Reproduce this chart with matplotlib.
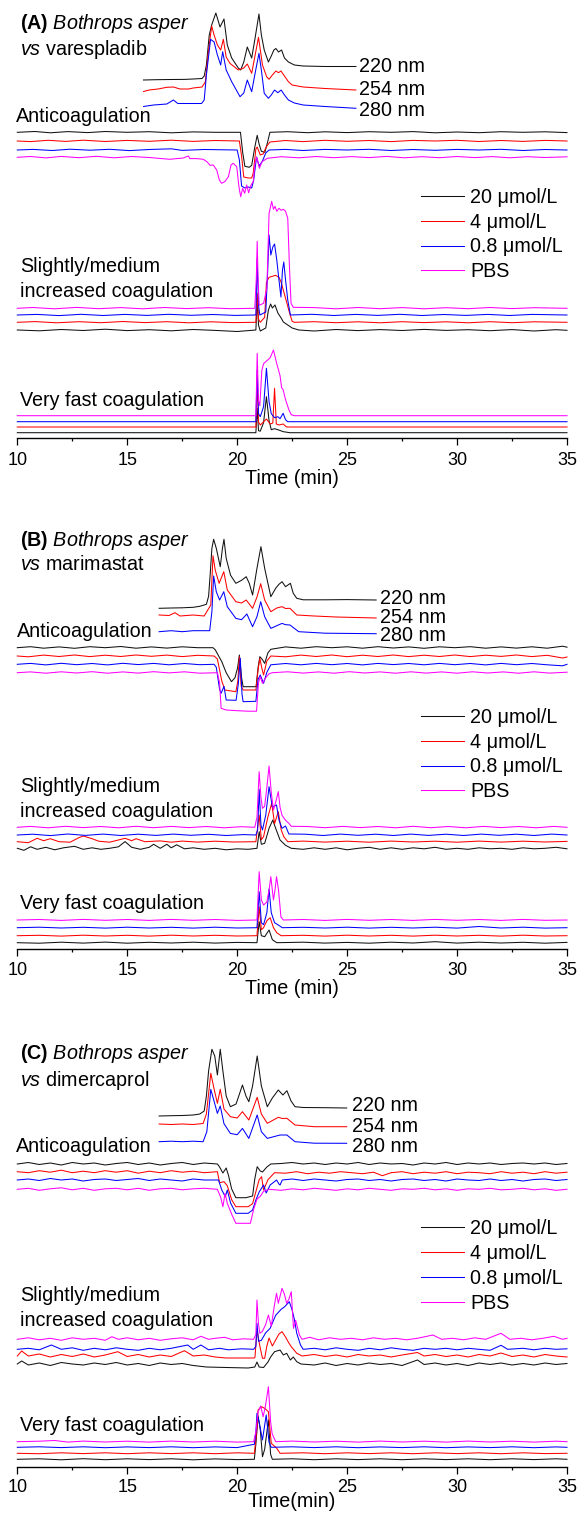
import matplotlib
matplotlib.use('Agg')
import matplotlib.pyplot as plt
from matplotlib.lines import Line2D
from matplotlib.ticker import MultipleLocator

plt.rcParams['font.family'] = ['Liberation Sans', 'DejaVu Sans']
plt.rcParams['mathtext.fontset'] = 'custom'
plt.rcParams['mathtext.rm'] = 'Liberation Sans'
plt.rcParams['mathtext.it'] = 'Liberation Sans:italic'
plt.rcParams['mathtext.bf'] = 'Liberation Sans:bold'

# ---------------- labels ----------------
TIME_TICKS = [10, 15, 20, 25, 30, 35]
WAVELENGTHS = ['220 nm', '254 nm', '280 nm']
CONCENTRATIONS = ['20 \u03bcmol/L', '4 \u03bcmol/L', '0.8 \u03bcmol/L', 'PBS']
PANEL_TITLE_1 = [r'$\bf{(A)}$ $\it{Bothrops\ asper}$', r'$\bf{(B)}$ $\it{Bothrops\ asper}$',
                 r'$\bf{(C)}$ $\it{Bothrops\ asper}$']
PANEL_TITLE_2 = [r'$\it{vs}$ varespladib', r'$\it{vs}$ marimastat', r'$\it{vs}$ dimercaprol']
XLABELS = ['Time (min)', 'Time (min)', 'Time(min)']

# ---------------- data: (time [min], signal above own baseline) ----------------
# Panel A  (B. asper vs varespladib)
A_UV220 = [(15.74,0),(16.3,0.3),(17.0,0.5),(17.6,0.6),(18.0,1),(18.4,1.5),(18.5,4),(18.6,15),(18.73,45),(18.84,55),(19.03,67),(19.22,53),(19.40,61),(19.55,35),(19.75,22),(20.05,12),(20.16,10),(20.3,18),(20.46,33),(20.66,22),(20.8,40),(20.99,66),(21.1,45),(21.23,30),(21.42,18),(21.55,24),(21.67,30),(21.76,31.5),(21.88,28),(22.02,30),(22.15,22),(22.33,18),(22.6,15),(23.0,14),(24.0,13.5),(25.4,13.5)]
A_UV254 = [(15.74,-1.5),(16.0,0),(16.4,1),(16.8,2.7),(17.1,3),(17.4,1),(17.8,1),(18.0,2),(18.4,3),(18.55,8),(18.7,40),(18.84,64),(18.95,55),(19.1,45),(19.25,40),(19.37,50.7),(19.5,33),(19.67,26.7),(20.05,20),(20.3,22),(20.46,26),(20.66,16.7),(20.8,33),(20.97,52.7),(21.15,25),(21.34,13.3),(21.45,10.7),(21.6,15),(21.76,19),(21.88,17.3),(21.99,19),(22.15,14),(22.33,8.3),(22.5,5),(23.0,3),(24.0,1.5),(25.4,0)]
A_UV280 = [(15.74,-1.5),(16.2,0),(16.8,1),(17.1,5),(17.3,1.5),(17.8,1.5),(18.38,1.5),(18.5,5),(18.6,30),(18.79,65.7),(18.95,63),(19.1,50),(19.25,40),(19.34,53.3),(19.5,35),(19.75,23.3),(20.13,8.3),(20.3,12),(20.46,25),(20.66,13.3),(20.8,30),(20.99,51.7),(21.1,35),(21.23,11.7),(21.42,6.7),(21.55,10),(21.7,15),(21.85,12.3),(22.0,15),(22.15,10),(22.33,5),(22.6,2),(23.0,0),(24.0,-1.5),(25.4,-3.3)]

A_ANTI_20 = [(10,0),(10.8,0.8),(11.5,-0.5),(12.3,0.7),(13.2,-0.3),(14,0.8),(15,0),(16,0.6),(17,-0.5),(18,0.4),(19,0),(20.15,0),(20.25,-20),(20.35,-34),(20.55,-35),(20.66,-33),(20.8,-15),(20.91,-3),(21.0,-12),(21.1,-19),(21.26,-20),(21.38,-10),(21.49,0),(22.3,0.6),(23.2,-0.4),(24,0.5),(25,-0.3),(26,0.6),(27,0),(28,0.7),(29,-0.5),(30,0.3),(31,-0.4),(32,0.6),(33,0),(34,0.5),(35,-0.3)]
A_ANTI_4 = [(10,0),(10.6,-0.6),(11.4,0.7),(12.2,-0.4),(13,0.8),(14,-0.5),(15,0.6),(16,-0.3),(17,0.8),(18,-0.4),(19,0.5),(20.1,0),(20.2,-15),(20.3,-36),(20.5,-37),(20.66,-37),(20.73,-32),(20.85,-8),(20.91,-6),(21.05,-14),(21.18,-13),(21.32,-6),(21.49,-1),(22.2,0.5),(23,-0.6),(24,0.7),(25,-0.3),(26,0.5),(27,-0.6),(28,0.6),(29,0),(30,0.7),(31,-0.5),(32,0.5),(33,-0.4),(34,0.6),(35,0)]
A_ANTI_08 = [(10,0),(10.7,0.6),(11.6,-0.5),(12.4,0.8),(13.3,-0.2),(14.2,0.7),(15.1,-0.6),(16,0.5),(17,1.2),(17.5,-0.4),(18.5,0.5),(20.0,0),(20.1,-10),(20.2,-36),(20.35,-38),(20.5,-37),(20.66,-38),(20.75,-30),(20.88,-7),(21.0,-16),(21.15,-11),(21.3,-3),(21.45,0),(22.2,0.6),(23,-0.5),(24,0.6),(25,0),(26,0.7),(27,-0.5),(28,0.5),(29,-0.3),(30,0.6),(31,0),(32,0.7),(33,-0.5),(34,0.5),(35,0)]
A_ANTI_PBS = [(10,0),(10.6,0.8),(11.3,-0.6),(12,0.9),(12.8,-0.4),(13.6,1),(14.4,-0.5),(15.2,0.8),(16.0,-0.2),(16.94,-2),(17.25,-1.3),(17.55,-0.7),(17.78,1.3),(17.85,-1.3),(18.16,-1.3),(18.46,-2),(18.64,-4.7),(18.76,-8),(18.91,-7.7),(19.07,-12.7),(19.19,-22.7),(19.29,-26),(19.44,-24.3),(19.60,-19.4),(19.72,-7.7),(19.82,-6),(19.98,-9.4),(20.08,-29.4),(20.16,-39.4),(20.25,-31),(20.34,-36),(20.43,-27.7),(20.52,-35.4),(20.63,-27.7),(20.73,-24.4),(20.81,-6),(20.89,0),(21.01,-11),(21.13,-4.4),(21.25,-2.7),(21.37,-1),(22,0.6),(22.8,-0.5),(23.6,0.8),(24.4,-0.4),(25.2,0.7),(26,-0.3),(26.8,0.9),(27.6,-0.5),(28.4,0.6),(29.2,-0.4),(30,0.8),(30.8,-0.3),(31.6,0.7),(32.4,-0.5),(33.2,0.6),(34,-0.2),(35,0.5)]

A_SLOW_20 = [(10,0),(11,-0.8),(12,0.5),(13,-0.5),(14,0.8),(15,-0.6),(16,0.3),(17,-0.8),(18,0.5),(19,-0.4),(20,-1.5),(20.85,0),(20.91,30),(20.97,5),(21.05,-1),(21.3,2),(21.42,20),(21.52,26),(21.6,22),(21.72,25),(21.85,17),(22.0,12),(22.1,8),(22.3,5),(22.5,2),(22.8,0),(23.5,-1),(24.5,0.5),(25.5,-0.6),(26.5,0.4),(27.5,-0.5),(28.5,0.6),(29.5,-0.4),(30.5,0.3),(31.5,-0.7),(32.5,0.4),(33.5,-1),(34.5,0.3),(35,-0.3)]
A_SLOW_4 = [(10,0),(10.8,0.7),(11.8,-0.5),(12.8,0.6),(13.8,-0.4),(14.8,0.8),(15.8,-0.3),(16.8,0.6),(17.8,-0.5),(18.8,0.5),(19.8,-0.3),(20.85,0),(20.91,29),(20.97,3),(21.05,0),(21.25,5),(21.33,40),(21.45,45),(21.6,46),(21.75,47),(21.9,45),(22.0,40),(22.1,32),(22.25,20),(22.4,8),(22.5,1),(22.6,0),(23.5,0.6),(24.5,-0.4),(25.5,0.5),(26.5,-0.5),(27.5,0.6),(28.5,-0.3),(29.5,0.5),(30.5,-0.5),(31.5,0.6),(32.5,-0.4),(33.5,0.5),(35,0)]
A_SLOW_08 = [(10,0),(10.9,0.6),(11.9,-0.6),(12.9,0.7),(13.9,-0.5),(14.9,0.6),(15.9,-0.4),(16.9,0.7),(17.9,-0.3),(18.9,0.5),(19.9,-0.4),(20.85,0),(20.91,56.7),(20.97,10),(21.03,0),(21.3,3),(21.38,40),(21.45,80),(21.53,60),(21.62,68),(21.7,71),(21.8,55),(21.9,35),(21.99,18),(22.06,45),(22.12,53),(22.2,35),(22.3,15),(22.42,0),(23.4,0.7),(24.4,-0.5),(25.4,0.6),(26.4,-0.4),(27.4,0.7),(28.4,-0.5),(29.4,0.5),(30.4,-0.4),(31.4,0.6),(32.4,-0.5),(33.4,0.6),(35,0)]
A_SLOW_PBS = [(10,0),(10.7,0.8),(11.7,-0.5),(12.7,0.9),(13.7,-0.4),(14.7,0.7),(15.7,-0.5),(16.7,0.8),(17.7,-0.3),(18.7,0.6),(19.7,-0.4),(20.8,0),(20.87,30),(20.91,67),(20.95,30),(21.0,3),(21.2,5),(21.35,20),(21.45,95),(21.57,107),(21.65,99),(21.72,102),(21.8,97),(21.9,100),(22.0,98),(22.1,99),(22.2,97),(22.3,90),(22.38,40),(22.45,5),(22.55,1),(23.5,0.7),(24.5,-0.5),(25.5,0.8),(26.5,-0.4),(27.5,0.7),(28.5,-0.5),(29.5,0.6),(30.5,-0.4),(31.5,0.8),(32.5,-0.3),(33.5,0.6),(35,0)]

A_FAST_20 = [(10,0),(20.85,0),(20.91,24.4),(20.97,2),(21.05,1.5),(21.2,10),(21.33,36),(21.45,12),(21.55,3),(21.7,4),(21.85,3),(22.1,1),(22.4,0),(35,0)]
A_FAST_4 = [(10,0),(20.85,0),(20.91,45.3),(20.97,5),(21.05,2),(21.33,8),(21.5,3),(21.62,4),(21.70,38.7),(21.78,3),(21.9,2),(22.09,3),(22.25,0),(35,0)]
A_FAST_08 = [(10,0),(20.85,0),(20.91,51.7),(20.97,8),(21.05,5),(21.2,15),(21.33,53.4),(21.45,20),(21.55,8),(21.7,4),(21.85,5),(21.95,3),(22.09,8.4),(22.2,2),(22.3,0),(35,0)]
A_FAST_PBS = [(10,0),(20.85,0),(20.91,62.4),(20.97,15),(21.03,10),(21.12,45),(21.2,52),(21.35,55),(21.5,58),(21.65,65.7),(21.8,52),(21.95,40),(22.02,28),(22.09,26),(22.2,16),(22.35,6),(22.46,1),(22.6,0),(35,0)]

# Panel B  (B. asper vs marimastat)
B_UV220 = [(16.45,0),(17.0,0.3),(17.5,0.5),(18.0,1),(18.3,2),(18.6,4),(18.7,12),(18.76,30),(18.85,60),(18.93,69),(19.05,60),(19.23,41.6),(19.33,60),(19.4,69),(19.5,50),(19.7,33),(19.94,25),(20.2,28),(20.41,31.6),(20.55,25),(20.7,13.3),(20.9,40),(21.08,61.6),(21.25,40),(21.53,11.6),(21.75,20),(21.9,24),(22.04,26.6),(22.2,21.6),(22.42,25),(22.55,15),(22.71,10),(23.0,8.5),(24,8.5),(25,8.7),(26.32,8.3)]
B_UV254 = [(16.45,0),(16.9,-0.5),(17.17,2.3),(17.4,-1),(18.0,0),(18.5,-1),(18.8,10),(18.9,59.3),(19.0,45),(19.18,31.7),(19.39,43.3),(19.55,25),(19.94,13.3),(20.2,12),(20.41,15),(20.7,6.7),(20.9,18),(21.07,31.3),(21.25,15),(21.53,3.3),(21.8,7),(22.04,8.3),(22.2,6.5),(22.4,6.7),(22.71,0),(23.5,-1),(24.5,-2),(26.32,-3)]
B_UV280 = [(16.45,0),(17,1),(17.5,0),(18,1),(18.75,1),(18.85,20),(18.93,55.7),(19.05,40),(19.2,31.7),(19.39,40),(19.55,25),(19.94,13.3),(20.2,12),(20.44,17.7),(20.7,5),(20.9,15),(21.07,30),(21.25,15),(21.53,3.3),(21.8,6),(22.04,8.3),(22.2,7),(22.4,6.7),(22.8,0),(24,-1.5),(26.32,-2)]

B_ANTI_20 = [(10,0),(10.6,1),(11.2,-0.5),(11.9,0.8),(12.6,-0.6),(13.3,1),(14,0),(14.7,1.2),(15.4,-0.5),(16.1,0.8),(16.8,-0.4),(17.5,0.9),(18.2,0),(18.9,0),(19.0,-2),(19.3,-14),(19.5,-25),(19.74,-34),(19.9,-30),(20.02,-20),(20.1,-7.3),(20.2,-30),(20.27,-39),(20.86,-39),(20.95,-20),(21.03,-9),(21.15,-12),(21.25,-15.7),(21.4,-5),(21.53,-1.6),(22.2,0.8),(22.9,-0.5),(23.6,1),(24.3,0),(25,0.9),(25.7,-0.5),(26.4,1),(27.1,-0.3),(27.8,0.8),(28.5,-0.6),(29.2,0.9),(29.9,0),(30.6,1),(31.3,-0.5),(32,0.8),(32.7,-0.4),(33.4,0.9),(34.1,-0.5),(34.8,1.5),(35,0.5)]
B_ANTI_4 = [(10,0),(10.5,-0.8),(11.2,0.9),(11.9,-0.5),(12.6,1),(13.3,-0.6),(14,0.8),(14.7,-0.5),(15.4,1),(16.1,-0.3),(16.8,0.9),(17.5,-0.6),(18.2,0.7),(18.95,0),(19.1,-3),(19.3,-25),(19.44,-34),(19.94,-35.7),(20.03,-25),(20.1,-0.7),(20.18,-30),(20.27,-34),(20.85,-34),(20.95,-14),(21.03,-2.3),(21.12,-12),(21.2,-19),(21.35,-5),(21.53,0),(22.2,-0.8),(22.9,0.9),(23.6,-0.5),(24.3,1),(25,-0.7),(25.7,0.8),(26.4,-0.5),(27.1,1),(27.8,-0.6),(28.5,0.8),(29.2,-0.5),(29.9,1),(30.6,-0.6),(31.3,0.8),(32,-0.4),(32.7,1),(33.4,-0.6),(34.1,0.7),(34.8,-2),(35,-1)]
B_ANTI_08 = [(10,0),(10.6,0.9),(11.3,-0.6),(12,1),(12.7,-0.4),(13.4,0.8),(14.1,-0.6),(14.8,1),(15.5,-0.3),(16.2,0.9),(16.9,-0.5),(17.6,0.8),(18.3,-0.4),(18.95,0),(19.05,-3),(19.2,-25),(19.27,-29),(19.4,-22),(19.5,-35.7),(19.95,-36),(20.05,-20),(20.14,6),(20.22,-30),(20.27,-37.4),(20.85,-37),(20.95,-15),(21.05,-10.7),(21.2,-19),(21.35,-8),(21.53,-0.5),(22.2,0.8),(22.9,-0.5),(23.6,0.9),(24.3,-0.4),(25,0.8),(25.7,-0.6),(26.4,0.9),(27.1,-0.3),(27.8,0.8),(28.5,-0.5),(29.2,0.9),(29.9,-0.4),(30.6,0.8),(31.3,-0.6),(32,0.9),(32.7,-0.4),(33.4,0.8),(34.1,-0.5),(34.8,-1.5),(35,0)]
B_ANTI_PBS = [(10,0),(10.6,0.8),(11.3,-0.5),(12,0.9),(12.7,-0.3),(13.4,1),(14.1,-0.5),(14.8,0.8),(15.5,-0.4),(16.2,1),(16.9,-0.2),(17.6,0.9),(18.3,-0.5),(19.1,0),(19.2,-10),(19.27,-35.6),(19.5,-37.3),(20.0,-38),(20.5,-38.5),(20.88,-38.5),(20.97,-10),(21.05,-4),(21.15,-10.6),(21.3,-5),(21.45,-1),(21.6,0),(22.3,0.9),(23,-0.4),(23.7,0.8),(24.4,-0.5),(25.1,1),(25.8,-0.3),(26.5,0.8),(27.2,-0.5),(27.9,0.9),(28.6,-0.4),(29.3,0.8),(30,-0.5),(30.7,0.9),(31.4,-0.3),(32.1,0.8),(32.8,-0.5),(33.5,0.9),(34.2,-0.4),(35,0.5)]

B_SLOW_20 = [(10,0),(10.3,-2),(10.6,1.5),(10.9,-1),(11.3,1),(11.7,-1.5),(12.1,0.5),(12.6,2),(13,-1),(13.4,0.5),(13.8,-1),(14.2,0),(14.6,1.5),(14.9,6.7),(15.2,1),(15.6,-1),(16.0,1),(16.2,4),(16.5,0),(16.8,4),(17.0,0.5),(17.25,3.5),(17.6,-0.5),(18.0,0.5),(18.5,-1),(19,0),(19.5,-1.5),(20,-0.5),(20.5,-1),(20.9,0),(21.0,16.6),(21.1,4),(21.25,5),(21.45,20),(21.62,28.3),(21.75,20),(21.95,8.3),(22.2,3),(22.46,0),(23,-1),(23.5,0.5),(24,-1),(24.5,0.5),(25,-1.5),(25.5,0),(26,1),(26.5,-1),(27,0.5),(27.5,-1),(28,0.5),(28.5,-0.5),(29,1),(29.5,-1),(30,0),(30.5,-1),(31,0.5),(31.5,-0.5),(32,0),(32.5,-1),(33,0.5),(33.5,-0.5),(34,0),(34.5,1),(35,-0.5)]
B_SLOW_4 = [(10,0),(10.5,-1),(10.9,3.4),(11.2,1),(11.5,3),(11.9,0),(12.4,-0.5),(12.8,4),(13.0,5.7),(13.4,3),(13.7,0.5),(14.2,-0.5),(14.9,3.4),(15.2,1),(15.4,3),(15.8,0),(16.5,0.8),(17,-0.5),(17.5,0.6),(18.2,-0.4),(19,0.5),(19.8,-0.3),(20.85,0),(21.0,26.7),(21.1,2),(21.2,5),(21.4,25),(21.57,38.4),(21.7,18),(21.87,30),(22.0,12),(22.12,5),(22.3,0),(23,0.6),(24,-0.4),(25,0.5),(26,-0.5),(27,0.6),(28,-0.3),(29,0.5),(30,-0.5),(31,0.6),(32,-0.4),(33,0.5),(34,-0.3),(35,0.3)]
B_SLOW_08 = [(10,0),(10.7,0.8),(11.5,-0.6),(12.3,1),(13.1,-0.4),(13.9,0.9),(14.7,-0.5),(15.5,0.8),(16.3,-0.4),(17.1,0.9),(17.9,-0.3),(18.7,0.7),(19.5,-0.5),(20.3,0.4),(20.85,0),(20.93,5),(21.0,45.7),(21.08,10),(21.15,5),(21.3,20),(21.45,48.3),(21.6,28),(21.79,30),(21.9,15),(22.04,6.7),(22.2,9),(22.35,1),(23.1,0.8),(23.9,-0.5),(24.7,0.9),(25.5,-0.3),(26.3,0.8),(27.1,-0.5),(27.9,0.9),(28.7,-0.4),(29.5,0.8),(30.3,-0.5),(31.1,0.9),(31.9,-0.3),(32.7,0.8),(33.5,-0.5),(34.3,0.9),(35,0)]
B_SLOW_PBS = [(10,0),(10.6,0.9),(11.4,-0.5),(12.2,1),(13,-0.3),(13.8,0.8),(14.6,-0.5),(15.4,1),(16.2,-0.4),(17,0.9),(17.8,-0.3),(18.6,0.8),(19.4,-0.5),(20.2,0.6),(20.8,0),(20.9,10),(21.0,55.6),(21.08,30),(21.15,19),(21.25,21),(21.35,40),(21.45,61.3),(21.55,35),(21.65,17.3),(21.75,25),(21.87,35.7),(21.95,20),(22.04,12),(22.2,7),(22.35,4),(22.46,1),(23.2,0.8),(24,-0.4),(24.8,0.9),(25.6,-0.3),(26.4,0.8),(27.2,-0.5),(28,1),(28.8,-0.4),(29.6,0.8),(30.4,-0.5),(31.2,0.9),(32,-0.3),(32.8,0.8),(33.6,-0.5),(34.4,0.9),(35,0)]

B_FAST_20 = [(10,0),(11,-0.5),(12,0.5),(13,-0.4),(14,0.6),(15,-0.5),(16,0.4),(17,-0.3),(18,0.5),(19,-0.4),(20,0.3),(20.9,0),(21.0,21),(21.1,7),(21.25,6),(21.45,12.7),(21.6,3),(21.8,0),(23,0.5),(24,-0.4),(25,0.3),(26,-0.5),(27,0.5),(28,-0.3),(29,1),(30,-0.4),(31,0.5),(32,-0.3),(33,0.4),(34,-0.5),(35,0.3)]
B_FAST_4 = [(10,0),(11,0.4),(12,-0.4),(13,0.5),(14,-0.3),(15,0.4),(16,-0.4),(17,0.5),(18,-0.3),(19,0.4),(20,-0.3),(20.9,0),(21.0,29),(21.1,6),(21.2,8),(21.35,15),(21.5,18),(21.65,8),(21.8,3),(22.0,0),(23,0.4),(24,-0.4),(25,0.5),(26,-0.3),(27,0.4),(28,-0.4),(29,0.5),(30,-0.3),(31,0.4),(32,-0.4),(33,0.5),(34,-0.3),(35,0)]
B_FAST_08 = [(10,0),(11,0.5),(12,-0.3),(13,0.4),(14,-0.4),(15,0.5),(16,-0.3),(17,0.4),(18,-0.4),(19,0.5),(20,-0.3),(20.9,0),(21.0,36),(21.1,5),(21.2,3),(21.35,15),(21.45,38.7),(21.55,15),(21.7,5),(21.85,3),(22.05,0),(23,0.4),(24,-0.3),(25,0.5),(26,-0.4),(27,0.4),(28,-0.3),(29,0.5),(30,-0.4),(31,1.2),(32,-0.3),(33,0.5),(34,-0.4),(35,0)]
B_FAST_PBS = [(10,0),(11,0.5),(12,-0.4),(13,0.6),(14,-0.3),(15,0.5),(16,-0.4),(17,0.6),(18,-0.3),(19,0.5),(20,-0.4),(20.9,0),(21.0,48.3),(21.1,20),(21.2,15),(21.35,18),(21.45,30),(21.53,43.3),(21.65,20),(21.72,30),(21.79,43.3),(21.88,30),(21.99,3),(22.1,0),(23,0.5),(24,-0.4),(25,0.6),(26,-0.3),(27,0.5),(28,-0.4),(29,0.6),(30,-0.3),(31,0.5),(32,-0.4),(33,0.6),(34,-0.3),(35,0)]

# Panel C  (B. asper vs dimercaprol)
C_UV220 = [(16.45,0),(17.0,0.3),(17.5,0.5),(18.0,1),(18.3,2),(18.5,5),(18.6,20),(18.7,45),(18.85,66.7),(18.98,60),(19.1,41),(19.23,66.7),(19.35,45),(19.5,20),(19.69,9.3),(19.95,12),(20.24,31),(20.4,20),(20.53,14.3),(20.7,30),(20.91,60),(21.1,30),(21.37,9.3),(21.6,18),(21.87,26),(22.08,21),(22.26,25.3),(22.45,15),(22.63,9.3),(23,8.5),(24,8.3),(24.98,8)]
C_UV254 = [(16.45,0),(17.0,-0.5),(17.5,0),(18.0,-0.5),(18.45,0.5),(18.6,10),(18.8,50.7),(18.95,35),(19.1,20.7),(19.23,34.7),(19.4,15),(19.69,7.3),(20.0,6),(20.24,12.3),(20.53,4),(20.91,26.7),(21.1,10),(21.37,0.7),(21.87,6.7),(22.05,5.5),(22.26,5.7),(22.63,-1),(23.5,-2.7),(24.98,-2.7)]
C_UV280 = [(16.45,0),(17.0,0.5),(17.5,0),(18.0,0.5),(18.45,0),(18.62,10),(18.8,52.3),(18.93,42),(19.1,28.3),(19.23,35.7),(19.4,18),(19.69,8.3),(20.0,7),(20.24,13.3),(20.53,3.3),(20.91,26.7),(21.1,10),(21.37,3.3),(21.95,6.7),(22.26,6.7),(22.63,0),(23.5,-1.5),(24.98,-1.6)]

C_ANTI_20 = [(10,0),(10.5,1.5),(11,-0.5),(11.5,1),(12,-1),(12.5,1.5),(13,0),(13.5,1),(14,-1),(14.5,0.5),(15,1.5),(15.5,-0.5),(16,1),(16.5,-1),(17,0.5),(17.5,1.5),(18,-0.5),(18.5,1),(19.1,0),(19.2,-3),(19.35,-9),(19.5,-4),(19.6,-11),(19.75,-25),(19.94,-33.7),(20.4,-33.7),(20.7,-32),(20.8,-15),(20.91,-2.7),(21.05,-7),(21.15,-8),(21.35,-3),(21.53,0),(22,0.5),(22.5,1.5),(23,0),(23.5,1),(24,-0.5),(24.5,1),(25,0),(25.5,1.5),(26,-0.5),(26.5,1),(27,0),(27.5,0.5),(28,-1),(28.5,1),(29,0),(29.5,1.5),(30,-0.5),(30.5,1),(31,0),(31.5,1),(32,-0.5),(32.5,0.5),(33,1),(33.5,0),(34,1),(34.5,-0.5),(35,0.5)]
C_ANTI_4 = [(10,0),(10.5,-1),(11,1),(11.5,-0.5),(12,1.5),(12.5,-1),(13,0.5),(13.5,-1),(14,1),(14.5,-0.5),(15,1),(15.5,-1.5),(16,0.5),(16.5,-1),(17,1),(17.5,-0.5),(18,0.5),(18.5,-1),(19.1,0),(19.2,-11),(19.4,-10),(19.55,-14),(19.75,-28),(19.94,-35),(20.5,-35),(20.7,-32),(20.85,-20),(21.0,-8),(21.11,-5),(21.2,-18.3),(21.4,-8),(21.7,-1),(22.2,-1.5),(22.7,0),(23.2,-2),(23.7,-0.5),(24.2,-1.5),(24.7,0),(25.2,-1),(25.7,-2),(26.2,-0.5),(26.6,-4),(27,-1),(27.5,0),(28,-2),(28.5,-0.5),(29,-1.5),(29.5,0),(30,-2),(30.5,-0.5),(31,-1),(31.5,-2),(32,0),(32.5,-1.5),(33,-0.5),(33.5,-2),(34,0),(34.5,-1.5),(35,-0.5)]
C_ANTI_08 = [(10,0),(10.5,1),(11,-0.5),(11.5,1.5),(12,0),(12.5,1),(13,-1),(13.5,0.5),(14,1),(14.5,-0.5),(15,0.5),(15.5,1.5),(16,-0.5),(16.5,1),(17,0),(17.5,-1),(18,1),(18.5,0),(19.15,0),(19.3,-10),(19.46,-16.7),(19.55,-10),(19.7,-23),(19.94,-33.3),(20.5,-33.3),(20.7,-30),(20.85,-20),(21.0,-12),(21.2,-5),(21.32,-13),(21.5,-5),(21.79,0),(21.9,-4),(21.95,-5),(22.05,0),(22.5,1),(23,-0.5),(23.5,1),(24,0),(24.5,-1),(25,0.5),(25.5,1),(26,-0.5),(26.5,0.5),(27,-1),(27.5,0.5),(28,1),(28.5,-0.5),(29,0.5),(29.5,-1),(30,1),(30.5,0),(31,-0.5),(31.5,1),(32,-0.5),(32.5,0.5),(33,-1),(33.5,0.5),(34,1),(34.5,-0.5),(35,0.5)]
C_ANTI_PBS = [(10,0),(10.5,1),(11,-1),(11.5,0.5),(12,1.5),(12.5,-0.5),(13,1),(13.5,-1),(14,0.5),(14.5,1),(15,-0.5),(15.5,1),(16,-1),(16.5,0.5),(17,1),(17.5,-0.5),(18,0.5),(18.5,1),(19.1,0),(19.25,-8),(19.35,-17.4),(19.45,-4),(19.55,-14),(19.75,-25),(19.94,-34),(20.6,-34),(20.75,-20),(20.9,-10),(21.05,-7),(21.2,-2),(21.45,0),(22,-1),(22.5,0.5),(23,-0.5),(23.5,1),(24,0),(24.5,-1),(25,0.5),(25.5,-0.5),(26,1),(26.5,0),(27,-1),(27.5,0.5),(28,0),(28.5,1),(29,-0.5),(29.5,0.5),(30,-1),(30.5,0.5),(31,0),(31.5,1),(32,-0.5),(32.5,0),(33,1),(33.5,-0.5),(34,0.5),(34.5,-1),(35,0)]

C_SLOW_20 = [(10,0),(10.2,3),(10.5,-1),(11,1),(11.5,-1.5),(12,1.5),(12.5,0),(13,-1),(13.5,1),(14,-0.5),(14.5,1.5),(15,-1),(15.5,0.5),(16,-1.5),(16.5,1),(17,-0.5),(17.5,0.5),(18,-1.5),(18.6,-3),(19.5,-3.5),(20.5,-4),(20.8,-3),(20.9,2),(21.0,-3),(21.2,-3.5),(21.4,2),(21.53,7.3),(21.7,12.3),(21.95,14),(22.1,9),(22.25,10.7),(22.42,4),(22.55,7),(22.71,2.3),(22.9,0),(23.5,-1),(24,1),(24.5,-1.5),(25,0.5),(25.5,-1),(26,1),(26.5,-0.5),(27,0.5),(27.5,-1.5),(28.2,4),(28.5,-0.5),(29,1),(29.5,-1),(30,0.5),(30.5,-1.5),(31,1),(31.5,-0.5),(32,1),(32.5,-1),(33,0.5),(33.5,-1),(34,1),(34.5,-0.5),(35,0.5)]
C_SLOW_4 = [(10,0),(10.2,5),(10.5,0),(11,2),(11.5,-1),(12,1.5),(12.5,-0.5),(13,2),(13.5,-1),(14,1),(14.57,4.3),(15,-0.5),(15.5,1.5),(16,-1),(16.5,1),(17,-0.5),(17.6,5.3),(18,0),(18.5,1),(19,-1),(19.5,-2),(20.5,-2),(20.78,-2),(20.81,-1),(20.9,26),(21.03,10),(21.15,-2.3),(21.25,-2.3),(21.35,10),(21.45,18),(21.6,10),(21.75,16),(21.9,22),(22.04,24.3),(22.2,19),(22.35,13),(22.46,9.3),(22.71,2.7),(22.95,0),(23.5,1.5),(24,-0.5),(24.5,1),(25,-1),(25.5,1.5),(26,0),(26.5,1),(27,-1),(27.5,1),(28.2,3.5),(28.5,0),(29,1.5),(29.5,-0.5),(30,1),(30.5,-1),(31,1.5),(31.5,0),(32.0,3),(32.5,-0.5),(33,1),(33.5,-1),(34,1.5),(34.5,0),(35,-1)]
C_SLOW_08 = [(10,0),(10.5,1),(11,-0.5),(11.55,4.3),(12,0),(12.5,1.5),(13,-1),(13.5,1),(14,-0.5),(14.5,1.5),(15,0),(15.5,-1),(16,1),(16.5,-0.5),(17,1),(17.75,4.3),(18,0),(18.35,4.3),(18.7,-0.5),(19.2,1),(19.6,-0.5),(20.2,0.5),(20.75,0),(20.85,3),(20.9,26),(20.97,8),(21.1,9),(21.3,16.6),(21.5,21),(21.75,34),(22.0,40),(22.16,42.6),(22.37,47.6),(22.5,39.3),(22.6,30),(22.71,16),(22.88,4.3),(23.0,0),(23.5,1),(24,-0.5),(24.5,1.5),(25,0),(25.5,-1),(26,1),(26.5,-0.5),(27,1.5),(27.5,0),(28,-1),(28.5,1),(29,0),(29.5,1),(30,-0.5),(30.5,1),(31,0),(31.5,-1),(32.0,4),(32.3,0),(33,1),(33.5,-0.5),(34,1),(34.5,0),(35,0.5)]
C_SLOW_PBS = [(10,0),(10.5,1.5),(11,-0.5),(11.5,1),(12,-1),(12.5,1.5),(13,0),(13.5,1),(14,-1),(14.3,2.6),(14.6,0),(15,1.5),(15.5,-0.5),(16,1),(16.5,-1),(17,0.5),(17.5,1.5),(18,-0.5),(18.35,3),(18.7,0),(19,1),(19.43,2),(19.8,-0.5),(20.3,0.5),(20.75,0),(20.85,5),(20.9,39.3),(20.97,15),(21.03,6),(21.15,8),(21.3,15),(21.42,24.3),(21.55,13),(21.7,35),(21.79,46),(21.87,36),(22.04,51),(22.15,45),(22.25,36),(22.35,40),(22.46,47.6),(22.56,11),(22.66,19),(22.83,4.3),(22.95,0),(23.3,2),(23.7,-0.5),(24.2,1.5),(24.7,0),(25.2,1),(25.7,-0.5),(26.2,1.5),(26.7,0),(27.2,1),(27.7,-0.5),(28.2,1),(28.9,4.3),(29.3,0),(29.8,1),(30.3,-0.5),(30.8,1.5),(31.3,0),(32.0,6),(32.4,0),(32.9,1),(33.4,-0.5),(33.9,1),(34.4,3),(34.8,0),(35,1)]

C_FAST_20 = [(10,0),(11,0.5),(12,-0.5),(13,0.6),(14,-0.4),(15,0.5),(16,-0.3),(17,0.5),(18,-0.5),(19,0.4),(20,-0.3),(20.78,0),(20.85,15),(20.95,43.3),(21.05,30),(21.15,2.6),(21.25,10),(21.42,39.3),(21.52,5),(21.6,0),(22.5,0.5),(23.5,-0.4),(24.5,0.5),(25.5,-0.3),(26.5,0.5),(27.5,-0.4),(28.5,0.5),(29.5,-0.3),(30.5,0.5),(31.5,-0.4),(32.5,0.5),(33.5,-0.3),(34.5,0.5),(35,0)]
C_FAST_4 = [(10,0),(11,-0.4),(12,0.5),(13,-0.3),(14,0.5),(15,-0.4),(16,0.5),(17,-0.3),(18,0.5),(19,-0.4),(20,0.5),(20.78,0),(20.88,20),(20.95,43.3),(21.1,46.6),(21.25,45),(21.42,41.6),(21.55,10),(21.65,8),(21.8,5),(21.95,0),(23,0.5),(24,-0.4),(25,0.5),(26,-0.3),(27,0.5),(28,-0.4),(29,0.5),(30,-0.3),(31,0.5),(32,-0.4),(33,0.5),(34,-0.3),(35,0)]
C_FAST_08 = [(10,0),(11,0.5),(12,-0.3),(13,0.5),(14,-0.4),(15,0.4),(16,-0.3),(17,0.5),(18,-0.4),(19,0.4),(20,-0.3),(20.6,2.3),(20.78,3),(20.85,15),(20.9,34),(21.0,25),(21.15,7.3),(21.32,32.3),(21.45,5),(21.55,0),(22.5,0.5),(23.5,-0.3),(24.5,0.5),(25.5,-0.4),(26.5,0.4),(27.5,-0.3),(28.5,0.5),(29.5,-0.4),(30.5,0.4),(31.5,-0.3),(32.5,0.5),(33.5,-0.4),(34.5,0.4),(35,0)]
C_FAST_PBS = [(10,0),(11,0.5),(11.7,1.2),(12.3,-0.4),(13,0.6),(14,-0.3),(15,0.5),(16,-0.4),(17,0.6),(18,-0.3),(19,0.5),(20,-0.4),(20.75,0),(20.85,10),(20.95,30),(21.07,35.7),(21.18,25),(21.28,35),(21.42,55),(21.52,20),(21.59,8),(21.75,0),(22.5,0.6),(23.5,-0.3),(24.5,0.5),(25.5,-0.4),(26.5,0.6),(27.5,-0.3),(28.5,0.5),(29.5,-0.4),(30.5,0.6),(31.5,-0.3),(32.5,0.5),(33.5,-0.4),(34.5,0.5),(35,0)]

# ---------------- layout (pixel geometry of the original figure) ----------------
FIG_W, FIG_H = 579, 1521
X0_PX, X1_PX = 17.3, 567.0
COL_UV = ['#111111', '#ff0000', '#0000ff']
COL_CONC = ['#111111', '#ff0000', '#0000ff', '#ff00ff']
FS = 14.2
FS_TICK = 13.0
LW = 0.75

PANELS = [
    dict(axis_py=438.0, top_py=0.0,
         uv=[A_UV220, A_UV254, A_UV280], uv_base=[358.0, 348.0, 333.0],
         uv_lab_x=25.56, uv_lab_y=[371.3, 348.7, 327.0],
         anti=[A_ANTI_20, A_ANTI_4, A_ANTI_08, A_ANTI_PBS], anti_base=[305.7, 297.0, 288.0, 280.7],
         slow=[A_SLOW_20, A_SLOW_4, A_SLOW_08, A_SLOW_PBS], slow_base=[108.0, 115.7, 123.0, 129.7],
         fast=[A_FAST_20, A_FAST_4, A_FAST_08, A_FAST_PBS], fast_base=[5.3, 11.0, 16.3, 22.3],
         title_y=[414.7, 388.7], anti_lab=(9.95, 321.0), slow_lab_y=[171.3, 146.3], fast_lab_y=38.0,
         leg_y=203.5, tick_pad=5.0, xlab_center=40.0),
    dict(axis_py=949.3, top_py=470.0,
         uv=[B_UV220, B_UV254, B_UV280], uv_base=[341.0, 334.3, 317.6],
         uv_lab_x=26.5, uv_lab_y=[351.0, 331.6, 313.6],
         anti=[B_ANTI_20, B_ANTI_4, B_ANTI_08, B_ANTI_PBS], anti_base=[301.6, 293.3, 285.0, 276.6],
         slow=[B_SLOW_20, B_SLOW_4, B_SLOW_08, B_SLOW_PBS], slow_base=[101.0, 107.6, 114.3, 122.0],
         fast=[B_FAST_20, B_FAST_4, B_FAST_08, B_FAST_PBS], fast_base=[6.6, 13.6, 21.6, 29.3],
         title_y=[409.3, 384.3], anti_lab=(10.0, 317.6), slow_lab_y=[162.6, 137.6], fast_lab_y=46.0,
         leg_y=194.8, tick_pad=4.0, xlab_center=39.0),
    dict(axis_py=1466.7, top_py=990.0,
         uv=[C_UV220, C_UV254, C_UV280], uv_base=[350.7, 342.7, 325.0],
         uv_lab_x=25.23, uv_lab_y=[361.7, 340.7, 320.0],
         anti=[C_ANTI_20, C_ANTI_4, C_ANTI_08, C_ANTI_PBS], anti_base=[302.7, 295.0, 286.7, 277.4],
         slow=[C_SLOW_20, C_SLOW_4, C_SLOW_08, C_SLOW_PBS], slow_base=[102.7, 110.7, 117.4, 127.4],
         fast=[C_FAST_20, C_FAST_4, C_FAST_08, C_FAST_PBS], fast_base=[7.4, 13.4, 19.4, 25.0],
         title_y=[413.4, 386.7], anti_lab=(9.95, 320.0), slow_lab_y=[171.7, 146.7], fast_lab_y=41.0,
         leg_y=200.9, tick_pad=3.5, xlab_center=35.0),
]

fig = plt.figure(figsize=(FIG_W / 100, FIG_H / 100), dpi=100)


def draw(ax, pairs, base, color):
    t = [p[0] for p in pairs]
    v = [base + p[1] for p in pairs]
    return ax.plot(t, v, color=color, lw=LW, solid_joinstyle='round', clip_on=False)[0]


for i, P in enumerate(PANELS):
    h_px = P['axis_py'] - P['top_py']
    ax = fig.add_axes([X0_PX / FIG_W, 1 - P['axis_py'] / FIG_H,
                       (X1_PX - X0_PX) / FIG_W, h_px / FIG_H])
    ax.set_xlim(10, 35)
    ax.set_ylim(0, h_px)
    for s in ['top', 'right', 'left']:
        ax.spines[s].set_visible(False)
    ax.spines['bottom'].set_linewidth(1.0)
    ax.set_yticks([])
    ax.set_xticks(TIME_TICKS)
    ax.xaxis.set_minor_locator(MultipleLocator(2.5))
    ax.tick_params(axis='x', which='major', direction='out', length=5, width=0.9,
                   labelsize=FS_TICK, pad=P['tick_pad'])
    ax.tick_params(axis='x', which='minor', direction='out', length=2.5, width=0.9)
    ax.set_xlabel(XLABELS[i], fontsize=FS, va='center')
    ax.xaxis.set_label_coords(22.5, -P['xlab_center'], transform=ax.transData)
    ax.patch.set_alpha(0)

    for pairs, base, c in zip(P['uv'], P['uv_base'], COL_UV):
        draw(ax, pairs, base, c)
    for lab, y in zip(WAVELENGTHS, P['uv_lab_y']):
        ax.text(P['uv_lab_x'], y, lab, fontsize=FS, ha='left', va='center')

    for pairs, base, c in zip(P['anti'], P['anti_base'], COL_CONC):
        draw(ax, pairs, base, c)
    for pairs, base, c in zip(P['slow'], P['slow_base'], COL_CONC):
        draw(ax, pairs, base, c)
    for pairs, base, c in zip(P['fast'], P['fast_base'], COL_CONC):
        draw(ax, pairs, base, c)

    ax.text(10.12, P['title_y'][0], PANEL_TITLE_1[i], fontsize=FS, ha='left', va='center')
    ax.text(10.12, P['title_y'][1], PANEL_TITLE_2[i], fontsize=FS, ha='left', va='center')
    ax.text(P['anti_lab'][0], P['anti_lab'][1], 'Anticoagulation', fontsize=FS, ha='left', va='center')
    ax.text(10.12, P['slow_lab_y'][0], 'Slightly/medium', fontsize=FS, ha='left', va='center')
    ax.text(10.12, P['slow_lab_y'][1], 'increased coagulation', fontsize=FS, ha='left', va='center')
    ax.text(10.12, P['fast_lab_y'], 'Very fast coagulation', fontsize=FS, ha='left', va='center')

    leg_handles = [Line2D([], [], color=c, lw=LW) for c in COL_CONC]
    ax.legend(leg_handles, CONCENTRATIONS, loc='center left',
              bbox_to_anchor=(28.35, P['leg_y']), bbox_transform=ax.transData,
              frameon=False, fontsize=FS, handlelength=2.2, handletextpad=0.3,
              labelspacing=0.3, borderpad=0, borderaxespad=0)

fig.savefig('out.png', dpi=100)
